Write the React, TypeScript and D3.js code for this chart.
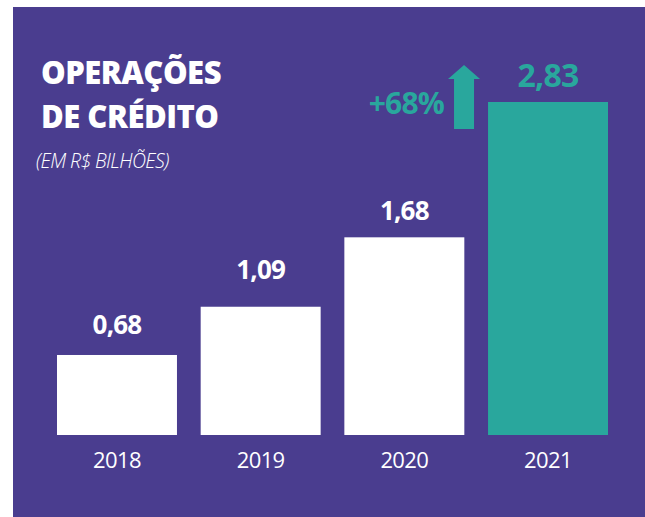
import React from "react";
import * as d3 from "d3";

// chart data
const years = ["2018", "2019", "2020", "2021"];
const values = [0.68, 1.09, 1.68, 2.83];
const valueLabels = ["0,68", "1,09", "1,68", "2,83"];
const growthLabel = "+68%";
const titleLines = ["OPERAÇÕES", "DE CRÉDITO"];
const subtitle = "(EM R$ BILHÕES)";

// label gaps above each bar (layout, not data)
const labelGap = [21, 28, 17, 15];

const W = 645;
const H = 517;
const purple = "#4A3D8F";
const teal = "#29A79D";
const font = "'Open Sans', 'Noto Sans', sans-serif";

const App = () => {
  const x = d3.scaleBand<string>()
    .domain(years)
    .range([57, 608])
    .paddingInner(0.165)
    .paddingOuter(0);

  const y = d3.scaleLinear()
    .domain([0, d3.max(values) as number])
    .range([435, 102]);

  const last = years.length - 1;
  // arrow sits to the left of the last bar
  const ax = (x(years[last]) as number) - 24;
  const aTop = y(values[last]) - 37;
  const aBase = aTop + 14;
  const aBottom = y(values[last]) + 27;
  const arrow = [
    [ax, aTop], [ax + 16, aBase], [ax + 10, aBase], [ax + 10, aBottom],
    [ax - 10, aBottom], [ax - 10, aBase], [ax - 16, aBase],
  ].map(p => p.join(",")).join(" ");

  return (
    <svg width={W} height={H} style={{ position: "absolute", left: 0, top: 0 }}>
      <rect x={13} y={7} width={W - 13} height={H - 7} fill={purple} />

      <g fontFamily={font} fill="#fff">
        {titleLines.map((t, i) => (
          <text key={t} x={41} y={84 + i * 44} fontSize={31} fontWeight={800} letterSpacing={-0.5}>{t}</text>
        ))}
        <text x={36} y={168} fontSize={19.5} fontStyle="italic" fontWeight={300} letterSpacing={-0.6}>{subtitle}</text>
      </g>

      {years.map((yr, i) => {
        const bx = x(yr) as number;
        const isLast = i === last;
        return (
          <g key={yr} fontFamily={font}>
            <rect
              x={bx}
              y={y(values[i])}
              width={x.bandwidth()}
              height={y(0) - y(values[i])}
              fill={isLast ? teal : "#fff"}
            />
            <text
              x={bx + x.bandwidth() / 2}
              y={y(values[i]) - labelGap[i]}
              textAnchor="middle"
              fontSize={isLast ? 32 : 26}
              fontWeight={700}
              letterSpacing={-0.8}
              fill={isLast ? teal : "#fff"}
            >{valueLabels[i]}</text>
            <text
              x={bx + x.bandwidth() / 2}
              y={468}
              textAnchor="middle"
              fontSize={22}
              letterSpacing={-0.6}
              fill="#fff"
            >{yr}</text>
          </g>
        );
      })}

      <polygon points={arrow} fill={teal} />
      <text x={ax - 20} y={114} textAnchor="end" fontFamily={font} fontSize={30} fontWeight={700} letterSpacing={-0.8} fill={teal}>
        {growthLabel}
      </text>
    </svg>
  );
};

export default App;
